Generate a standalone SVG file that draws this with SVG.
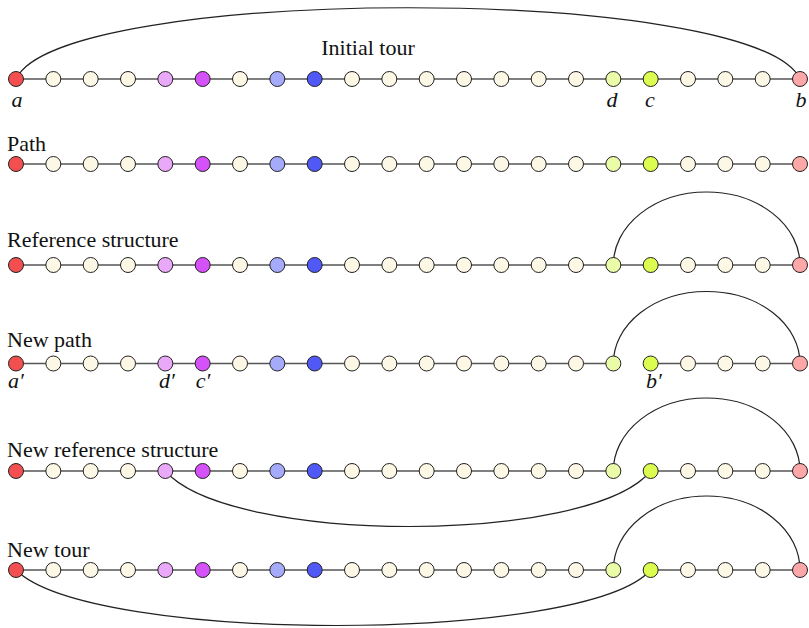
<svg xmlns="http://www.w3.org/2000/svg" width="809" height="628" viewBox="0 0 809 628">
<style>
.e{stroke:#555;stroke-width:1.4;fill:none}
.arc{stroke:#222;stroke-width:1.2;fill:none}
circle{stroke:#222;stroke-width:1}
.R{fill:#f25050}.C{fill:#fdf8e6}.LV{fill:#eaa8f8}.M{fill:#d452f8}.LB{fill:#a6aafa}.B{fill:#5058f6}.LG{fill:#eafca8}.G{fill:#dcfc50}.P{fill:#fca8a8}
text{font-family:'Liberation Serif','DejaVu Serif','Times New Roman',Times,serif;font-size:22px;fill:#111}
.l{font-style:italic;text-anchor:middle}
</style>
<rect width="809" height="628" fill="#fff"/>
<g id="connectors">
<path class="e" d="M16,79H800M16,164H800M16,265H800M16,363.5H613.33M650.67,363.5H800M16,471H613.33M650.67,471H800M16,570H613.33M650.67,570H800"/>
<path class="arc" d="M16,79 C60,-16 756,-16 800,79"/>
<path class="arc" d="M613.33,265 A93.33,73 0 0 1 800,265"/>
<path class="arc" d="M613.33,363.5 A93.33,72 0 0 1 800,363.5"/>
<path class="arc" d="M613.33,471 A93.33,73 0 0 1 800,471"/>
<path class="arc" d="M165.33,471 C230,545 590,545 650.67,471"/>
<path class="arc" d="M613.33,570 A93.33,74 0 0 1 800,570"/>
<path class="arc" d="M16,570 C90,644 585,644 650.67,570"/>
</g>
<g id="labels" font-family="Liberation Serif, serif">
<text x="368" y="55" text-anchor="middle">Initial tour</text>
<text x="7" y="150.5">Path</text>
<text x="7" y="246.5">Reference structure</text>
<text x="7" y="346.5">New path</text>
<text x="7" y="456.5">New reference structure</text>
<text x="7" y="556.5">New tour</text>
<text class="l" x="17" y="107">a</text>
<text class="l" x="612" y="107">d</text>
<text class="l" x="650" y="107">c</text>
<text class="l" x="801" y="107">b</text>
<text class="l" x="16" y="388">a′</text>
<text class="l" x="167" y="388">d′</text>
<text class="l" x="203" y="388">c′</text>
<text class="l" x="654" y="388">b′</text>
</g>
<g id="row1">
<g id="n1_0"><circle class="R" cx="16" cy="79" r="7.5"/></g>
<g id="n1_1"><circle class="C" cx="53.33" cy="79" r="7.5"/></g>
<g id="n1_2"><circle class="C" cx="90.67" cy="79" r="7.5"/></g>
<g id="n1_3"><circle class="C" cx="128" cy="79" r="7.5"/></g>
<g id="n1_4"><circle class="LV" cx="165.33" cy="79" r="7.5"/></g>
<g id="n1_5"><circle class="M" cx="202.67" cy="79" r="7.5"/></g>
<g id="n1_6"><circle class="C" cx="240" cy="79" r="7.5"/></g>
<g id="n1_7"><circle class="LB" cx="277.33" cy="79" r="7.5"/></g>
<g id="n1_8"><circle class="B" cx="314.67" cy="79" r="7.5"/></g>
<g id="n1_9"><circle class="C" cx="352" cy="79" r="7.5"/></g>
<g id="n1_10"><circle class="C" cx="389.33" cy="79" r="7.5"/></g>
<g id="n1_11"><circle class="C" cx="426.67" cy="79" r="7.5"/></g>
<g id="n1_12"><circle class="C" cx="464" cy="79" r="7.5"/></g>
<g id="n1_13"><circle class="C" cx="501.33" cy="79" r="7.5"/></g>
<g id="n1_14"><circle class="C" cx="538.67" cy="79" r="7.5"/></g>
<g id="n1_15"><circle class="C" cx="576" cy="79" r="7.5"/></g>
<g id="n1_16"><circle class="LG" cx="613.33" cy="79" r="7.5"/></g>
<g id="n1_17"><circle class="G" cx="650.67" cy="79" r="7.5"/></g>
<g id="n1_18"><circle class="C" cx="688" cy="79" r="7.5"/></g>
<g id="n1_19"><circle class="C" cx="725.33" cy="79" r="7.5"/></g>
<g id="n1_20"><circle class="C" cx="762.67" cy="79" r="7.5"/></g>
<g id="n1_21"><circle class="P" cx="800" cy="79" r="7.5"/></g>
</g>
<g id="row2">
<g id="n2_0"><circle class="R" cx="16" cy="164" r="7.5"/></g>
<g id="n2_1"><circle class="C" cx="53.33" cy="164" r="7.5"/></g>
<g id="n2_2"><circle class="C" cx="90.67" cy="164" r="7.5"/></g>
<g id="n2_3"><circle class="C" cx="128" cy="164" r="7.5"/></g>
<g id="n2_4"><circle class="LV" cx="165.33" cy="164" r="7.5"/></g>
<g id="n2_5"><circle class="M" cx="202.67" cy="164" r="7.5"/></g>
<g id="n2_6"><circle class="C" cx="240" cy="164" r="7.5"/></g>
<g id="n2_7"><circle class="LB" cx="277.33" cy="164" r="7.5"/></g>
<g id="n2_8"><circle class="B" cx="314.67" cy="164" r="7.5"/></g>
<g id="n2_9"><circle class="C" cx="352" cy="164" r="7.5"/></g>
<g id="n2_10"><circle class="C" cx="389.33" cy="164" r="7.5"/></g>
<g id="n2_11"><circle class="C" cx="426.67" cy="164" r="7.5"/></g>
<g id="n2_12"><circle class="C" cx="464" cy="164" r="7.5"/></g>
<g id="n2_13"><circle class="C" cx="501.33" cy="164" r="7.5"/></g>
<g id="n2_14"><circle class="C" cx="538.67" cy="164" r="7.5"/></g>
<g id="n2_15"><circle class="C" cx="576" cy="164" r="7.5"/></g>
<g id="n2_16"><circle class="LG" cx="613.33" cy="164" r="7.5"/></g>
<g id="n2_17"><circle class="G" cx="650.67" cy="164" r="7.5"/></g>
<g id="n2_18"><circle class="C" cx="688" cy="164" r="7.5"/></g>
<g id="n2_19"><circle class="C" cx="725.33" cy="164" r="7.5"/></g>
<g id="n2_20"><circle class="C" cx="762.67" cy="164" r="7.5"/></g>
<g id="n2_21"><circle class="P" cx="800" cy="164" r="7.5"/></g>
</g>
<g id="row3">
<g id="n3_0"><circle class="R" cx="16" cy="265" r="7.5"/></g>
<g id="n3_1"><circle class="C" cx="53.33" cy="265" r="7.5"/></g>
<g id="n3_2"><circle class="C" cx="90.67" cy="265" r="7.5"/></g>
<g id="n3_3"><circle class="C" cx="128" cy="265" r="7.5"/></g>
<g id="n3_4"><circle class="LV" cx="165.33" cy="265" r="7.5"/></g>
<g id="n3_5"><circle class="M" cx="202.67" cy="265" r="7.5"/></g>
<g id="n3_6"><circle class="C" cx="240" cy="265" r="7.5"/></g>
<g id="n3_7"><circle class="LB" cx="277.33" cy="265" r="7.5"/></g>
<g id="n3_8"><circle class="B" cx="314.67" cy="265" r="7.5"/></g>
<g id="n3_9"><circle class="C" cx="352" cy="265" r="7.5"/></g>
<g id="n3_10"><circle class="C" cx="389.33" cy="265" r="7.5"/></g>
<g id="n3_11"><circle class="C" cx="426.67" cy="265" r="7.5"/></g>
<g id="n3_12"><circle class="C" cx="464" cy="265" r="7.5"/></g>
<g id="n3_13"><circle class="C" cx="501.33" cy="265" r="7.5"/></g>
<g id="n3_14"><circle class="C" cx="538.67" cy="265" r="7.5"/></g>
<g id="n3_15"><circle class="C" cx="576" cy="265" r="7.5"/></g>
<g id="n3_16"><circle class="LG" cx="613.33" cy="265" r="7.5"/></g>
<g id="n3_17"><circle class="G" cx="650.67" cy="265" r="7.5"/></g>
<g id="n3_18"><circle class="C" cx="688" cy="265" r="7.5"/></g>
<g id="n3_19"><circle class="C" cx="725.33" cy="265" r="7.5"/></g>
<g id="n3_20"><circle class="C" cx="762.67" cy="265" r="7.5"/></g>
<g id="n3_21"><circle class="P" cx="800" cy="265" r="7.5"/></g>
</g>
<g id="row4">
<g id="n4_0"><circle class="R" cx="16" cy="363.5" r="7.5"/></g>
<g id="n4_1"><circle class="C" cx="53.33" cy="363.5" r="7.5"/></g>
<g id="n4_2"><circle class="C" cx="90.67" cy="363.5" r="7.5"/></g>
<g id="n4_3"><circle class="C" cx="128" cy="363.5" r="7.5"/></g>
<g id="n4_4"><circle class="LV" cx="165.33" cy="363.5" r="7.5"/></g>
<g id="n4_5"><circle class="M" cx="202.67" cy="363.5" r="7.5"/></g>
<g id="n4_6"><circle class="C" cx="240" cy="363.5" r="7.5"/></g>
<g id="n4_7"><circle class="LB" cx="277.33" cy="363.5" r="7.5"/></g>
<g id="n4_8"><circle class="B" cx="314.67" cy="363.5" r="7.5"/></g>
<g id="n4_9"><circle class="C" cx="352" cy="363.5" r="7.5"/></g>
<g id="n4_10"><circle class="C" cx="389.33" cy="363.5" r="7.5"/></g>
<g id="n4_11"><circle class="C" cx="426.67" cy="363.5" r="7.5"/></g>
<g id="n4_12"><circle class="C" cx="464" cy="363.5" r="7.5"/></g>
<g id="n4_13"><circle class="C" cx="501.33" cy="363.5" r="7.5"/></g>
<g id="n4_14"><circle class="C" cx="538.67" cy="363.5" r="7.5"/></g>
<g id="n4_15"><circle class="C" cx="576" cy="363.5" r="7.5"/></g>
<g id="n4_16"><circle class="LG" cx="613.33" cy="363.5" r="7.5"/></g>
<g id="n4_17"><circle class="G" cx="650.67" cy="363.5" r="7.5"/></g>
<g id="n4_18"><circle class="C" cx="688" cy="363.5" r="7.5"/></g>
<g id="n4_19"><circle class="C" cx="725.33" cy="363.5" r="7.5"/></g>
<g id="n4_20"><circle class="C" cx="762.67" cy="363.5" r="7.5"/></g>
<g id="n4_21"><circle class="P" cx="800" cy="363.5" r="7.5"/></g>
</g>
<g id="row5">
<g id="n5_0"><circle class="R" cx="16" cy="471" r="7.5"/></g>
<g id="n5_1"><circle class="C" cx="53.33" cy="471" r="7.5"/></g>
<g id="n5_2"><circle class="C" cx="90.67" cy="471" r="7.5"/></g>
<g id="n5_3"><circle class="C" cx="128" cy="471" r="7.5"/></g>
<g id="n5_4"><circle class="LV" cx="165.33" cy="471" r="7.5"/></g>
<g id="n5_5"><circle class="M" cx="202.67" cy="471" r="7.5"/></g>
<g id="n5_6"><circle class="C" cx="240" cy="471" r="7.5"/></g>
<g id="n5_7"><circle class="LB" cx="277.33" cy="471" r="7.5"/></g>
<g id="n5_8"><circle class="B" cx="314.67" cy="471" r="7.5"/></g>
<g id="n5_9"><circle class="C" cx="352" cy="471" r="7.5"/></g>
<g id="n5_10"><circle class="C" cx="389.33" cy="471" r="7.5"/></g>
<g id="n5_11"><circle class="C" cx="426.67" cy="471" r="7.5"/></g>
<g id="n5_12"><circle class="C" cx="464" cy="471" r="7.5"/></g>
<g id="n5_13"><circle class="C" cx="501.33" cy="471" r="7.5"/></g>
<g id="n5_14"><circle class="C" cx="538.67" cy="471" r="7.5"/></g>
<g id="n5_15"><circle class="C" cx="576" cy="471" r="7.5"/></g>
<g id="n5_16"><circle class="LG" cx="613.33" cy="471" r="7.5"/></g>
<g id="n5_17"><circle class="G" cx="650.67" cy="471" r="7.5"/></g>
<g id="n5_18"><circle class="C" cx="688" cy="471" r="7.5"/></g>
<g id="n5_19"><circle class="C" cx="725.33" cy="471" r="7.5"/></g>
<g id="n5_20"><circle class="C" cx="762.67" cy="471" r="7.5"/></g>
<g id="n5_21"><circle class="P" cx="800" cy="471" r="7.5"/></g>
</g>
<g id="row6">
<g id="n6_0"><circle class="R" cx="16" cy="570" r="7.5"/></g>
<g id="n6_1"><circle class="C" cx="53.33" cy="570" r="7.5"/></g>
<g id="n6_2"><circle class="C" cx="90.67" cy="570" r="7.5"/></g>
<g id="n6_3"><circle class="C" cx="128" cy="570" r="7.5"/></g>
<g id="n6_4"><circle class="LV" cx="165.33" cy="570" r="7.5"/></g>
<g id="n6_5"><circle class="M" cx="202.67" cy="570" r="7.5"/></g>
<g id="n6_6"><circle class="C" cx="240" cy="570" r="7.5"/></g>
<g id="n6_7"><circle class="LB" cx="277.33" cy="570" r="7.5"/></g>
<g id="n6_8"><circle class="B" cx="314.67" cy="570" r="7.5"/></g>
<g id="n6_9"><circle class="C" cx="352" cy="570" r="7.5"/></g>
<g id="n6_10"><circle class="C" cx="389.33" cy="570" r="7.5"/></g>
<g id="n6_11"><circle class="C" cx="426.67" cy="570" r="7.5"/></g>
<g id="n6_12"><circle class="C" cx="464" cy="570" r="7.5"/></g>
<g id="n6_13"><circle class="C" cx="501.33" cy="570" r="7.5"/></g>
<g id="n6_14"><circle class="C" cx="538.67" cy="570" r="7.5"/></g>
<g id="n6_15"><circle class="C" cx="576" cy="570" r="7.5"/></g>
<g id="n6_16"><circle class="LG" cx="613.33" cy="570" r="7.5"/></g>
<g id="n6_17"><circle class="G" cx="650.67" cy="570" r="7.5"/></g>
<g id="n6_18"><circle class="C" cx="688" cy="570" r="7.5"/></g>
<g id="n6_19"><circle class="C" cx="725.33" cy="570" r="7.5"/></g>
<g id="n6_20"><circle class="C" cx="762.67" cy="570" r="7.5"/></g>
<g id="n6_21"><circle class="P" cx="800" cy="570" r="7.5"/></g>
</g>
</svg>
